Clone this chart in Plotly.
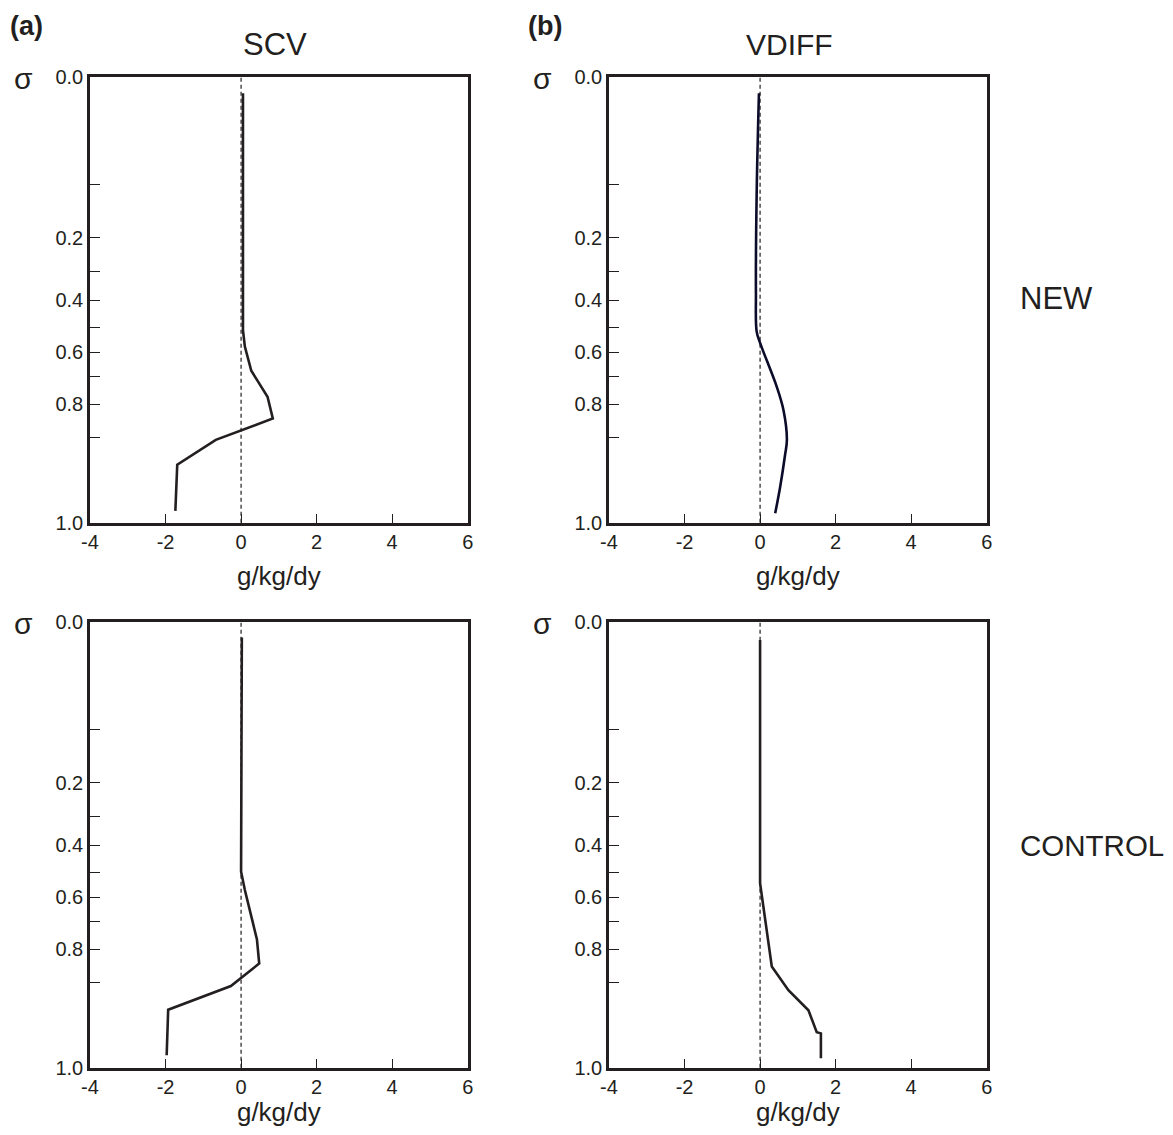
import numpy as np
import plotly.graph_objects as go

# ---------------- data ----------------
# vertical axis tick table (sigma labels and their relative position on the stretched axis)
SIGMA_TICKS = [0.0, 0.2, 0.4, 0.6, 0.8, 1.0]
SIGMA_TICK_LABELS = ["0.0", "0.2", "0.4", "0.6", "0.8", "1.0"]
X_TICKS = [-4, -2, 0, 2, 4, 6]

# SCV, NEW
scv_new_sigma = [0.020, 0.515, 0.578, 0.671, 0.771, 0.824, 0.860, 0.902, 0.980]
scv_new_val = [0.05, 0.05, 0.10, 0.27, 0.70, 0.84, -0.67, -1.69, -1.74]
# VDIFF, NEW
vdiff_new_sigma = [0.020, 0.144, 0.378, 0.521, 0.564, 0.732, 0.810, 0.860, 0.886, 0.940, 0.984]
vdiff_new_val = [-0.03, -0.09, -0.11, -0.09, 0.0, 0.44, 0.62, 0.71, 0.66, 0.53, 0.40]
# SCV, CONTROL
scv_ctl_sigma = [0.019, 0.502, 0.572, 0.762, 0.824, 0.862, 0.902, 0.979]
scv_ctl_val = [0.02, 0.0, 0.10, 0.42, 0.48, -0.27, -1.93, -1.97]
# VDIFF, CONTROL
vdiff_ctl_sigma = [0.022, 0.384, 0.546, 0.829, 0.841, 0.869, 0.903, 0.940, 0.942, 0.984]
vdiff_ctl_val = [0.0, 0.0, 0.0, 0.31, 0.44, 0.75, 1.28, 1.50, 1.61, 1.61]

# ---------------- axis scale (stretched sigma axis) ----------------
AXIS_POS = [0.0, 0.3601, 0.5000, 0.6174, 0.7342, 1.0]     # major tick positions on axis
MINOR_POS = [0.2402, 0.4356, 0.5622, 0.6722, 0.8092]       # unlabeled ticks


def to_axis(sig):
    return np.interp(np.asarray(sig), SIGMA_TICKS, AXIS_POS)


# the page body has an 8px margin: size the figure so the page fits the window exactly
OFF = 8
W, H = 1173 - 2 * OFF, 1135 - 2 * OFF
FONT = "Liberation Sans, Arial, sans-serif"
INK = "#231f20"

tickvals = AXIS_POS + MINOR_POS
ticktext = SIGMA_TICK_LABELS + [""] * len(MINOR_POS)


def px(x):
    return (x - OFF) / W


def py(y):
    return 1 - (y - OFF) / H


panels = [
    # (xaxis id, yaxis id, x extent, y extent (window px), sigma, values, color, shape)
    ("x", "y", (90, 467.7), (77.3, 522.7), scv_new_sigma, scv_new_val, INK, "linear"),
    ("x2", "y2", (609, 986.7), (77.3, 522.7), vdiff_new_sigma, vdiff_new_val, "#0b0b2a", "spline"),
    ("x3", "y3", (90, 467.7), (622.3, 1067.7), scv_ctl_sigma, scv_ctl_val, INK, "linear"),
    ("x4", "y4", (609, 986.7), (622.3, 1067.7), vdiff_ctl_sigma, vdiff_ctl_val, INK, "linear"),
]

fig = go.Figure()
layout = dict(
    width=W, height=H,
    margin=dict(l=0, r=0, t=0, b=0, autoexpand=False),
    paper_bgcolor="white", plot_bgcolor="white",
    showlegend=False,
    font=dict(family=FONT, color=INK),
)
shapes = []
annotations = []

for xid, yid, (x0, x1), (y0, y1), sig, val, col, shp in panels:
    fig.add_trace(go.Scatter(
        x=val, y=to_axis(sig), mode="lines", xaxis=xid, yaxis=yid,
        line=dict(color=col, width=2.6, shape=shp, smoothing=1.0),
        hoverinfo="skip",
    ))
    xk = "xaxis" + xid[1:]
    yk = "yaxis" + yid[1:]
    layout[xk] = dict(
        domain=[px(x0), px(x1)], anchor=yid, range=[-4, 6],
        tickvals=X_TICKS, ticktext=[str(v) for v in X_TICKS],
        ticks="inside", ticklen=9, tickwidth=1.3, tickcolor=INK,
        showline=True, mirror=True, linecolor=INK, linewidth=2.5,
        showgrid=False, zeroline=False, automargin=False,
        tickfont=dict(size=20, family=FONT, color=INK),
        title=dict(text="g/kg/dy", font=dict(size=26, family=FONT, color=INK), standoff=15),
    )
    layout[yk] = dict(
        domain=[py(y1), py(y0)], anchor=xid, range=[1, 0],
        tickvals=tickvals, ticktext=ticktext,
        ticks="inside", ticklen=10, tickwidth=1.3, tickcolor=INK,
        showline=True, mirror=True, linecolor=INK, linewidth=2.5,
        showgrid=False, zeroline=False, automargin=False,
        tickfont=dict(size=20, family=FONT, color=INK),
    )
    # dashed zero reference line
    shapes.append(dict(
        type="line", xref=xid, yref=yid + " domain", x0=0, x1=0, y0=0, y1=1,
        line=dict(color=INK, width=1.2, dash="4px,3px"), layer="below",
    ))
    # sigma symbol, to the left of each panel's top
    annotations.append(dict(
        text="σ", x=px(x0 - 67), y=py(y0 + 1), xref="paper", yref="paper",
        showarrow=False, xanchor="center", yanchor="middle",
        font=dict(size=30, family=FONT, color=INK),
    ))


def label(text, xpx, ypx, size, bold=False, anchor="center"):
    annotations.append(dict(
        text=("<b>%s</b>" % text) if bold else text,
        x=px(xpx), y=py(ypx), xref="paper", yref="paper",
        showarrow=False, xanchor=anchor, yanchor="middle",
        font=dict(size=size, family=FONT, color=INK),
    ))


label("(a)", 26, 26, 27, bold=True)
label("(b)", 545, 26, 27, bold=True)
label("SCV", 275, 45, 31)
label("VDIFF", 789, 45, 30)
label("NEW", 1018, 298, 31, anchor="left")
label("CONTROL", 1018, 845, 29.5, anchor="left")

layout["shapes"] = shapes
layout["annotations"] = annotations
fig.update_layout(**layout)

fig.write_html("out.html")
